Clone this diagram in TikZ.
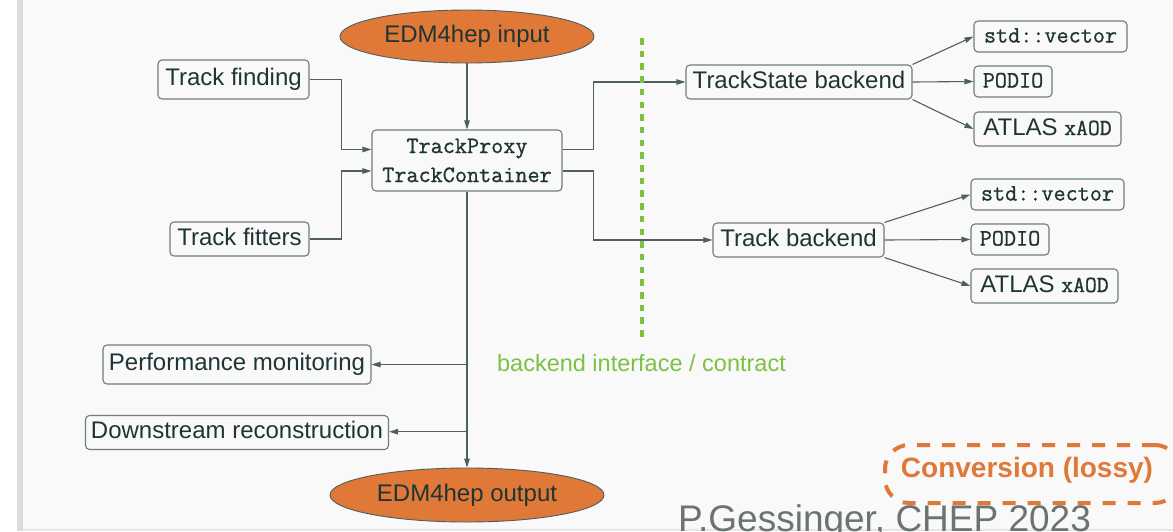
\documentclass[tikz,border=0pt]{standalone}
\usepackage{fontspec}
\setmainfont{Liberation Sans}
\setmonofont{Latin Modern Mono}[FakeBold=0.9]
\usetikzlibrary{shapes.geometric,arrows.meta,calc}
\definecolor{bg}{HTML}{F9F9F9}
\definecolor{strip}{HTML}{DCDCDC}
\definecolor{bstrip}{HTML}{E6E6E6}
\definecolor{txt}{HTML}{1F3535}
\definecolor{boxc}{HTML}{6E7D7D}
\definecolor{linec}{HTML}{4F5F5F}
\definecolor{orng}{HTML}{E07838}
\definecolor{grn}{HTML}{7DC142}
\definecolor{sig}{HTML}{6B7373}
\begin{document}
\begin{tikzpicture}[x=1pt,y=-1pt,
  box/.style={draw=boxc, line width=1.1pt, rounded corners=4pt, text=txt,
    font=\fontsize{24}{28}\selectfont, inner xsep=4pt, inner ysep=0pt,
    text height=17pt, text depth=5pt, minimum height=34pt},
  mono/.style={font=\ttfamily\fontsize{23.5}{29}\selectfont},
  ell/.style={ellipse, draw=linec, line width=0.9pt, fill=orng, text=txt,
    font=\fontsize{24}{28}\selectfont, inner sep=0pt},
  arr/.style={draw=linec, line width=1.1pt, -{Triangle[length=9pt,width=5.5pt]}},
  conn/.style={draw=linec, line width=1.1pt}]
\useasboundingbox (0,0) rectangle (1173,531);
\clip (0,0) rectangle (1173,531);
% background
\fill[white] (0,0) rectangle (1173,531);
\fill[bg] (23,0) rectangle (1173,529);
\fill[strip] (17,0) rectangle (23,531);
\fill[bstrip] (23,529) rectangle (1173,531);

% nodes
\node[ell, minimum width=254pt, minimum height=53pt] (in) at (467,36.5) {EDM4hep input};
\node[ell, minimum width=274pt, minimum height=54pt] (out) at (467,495) {EDM4hep output};
\node[box, minimum width=151pt, minimum height=39pt] (tf) at (233.5,79.5) {Track finding};
\node[box, minimum width=139pt] (tfit) at (239.5,239) {Track fitters};
\node[box, mono, align=center, minimum width=190pt, minimum height=61pt, text height=, text depth=] (proxy) at (467,160.5) {TrackProxy\\TrackContainer};
\node[box, minimum width=226pt] (tsb) at (799,82) {TrackState backend};
\node[box, minimum width=171pt] (tb) at (798.5,240) {Track backend};
\node[box, mono, minimum width=153pt, minimum height=31pt] (sv1) at (1050.5,36.5) {std::vector};
\node[box, mono, minimum width=78pt, minimum height=31pt] (p1) at (1013,81.5) {PODIO};
\node[box, minimum width=147pt] (a1) at (1047.5,129) {ATLAS {\ttfamily\fontsize{23}{28}\selectfont xAOD}};
\node[box, mono, minimum width=153pt, minimum height=31pt] (sv2) at (1047.5,194.5) {std::vector};
\node[box, mono, minimum width=78pt, minimum height=31pt] (p2) at (1010,239.5) {PODIO};
\node[box, minimum width=147pt] (a2) at (1044.5,286) {ATLAS {\ttfamily\fontsize{23}{28}\selectfont xAOD}};
\node[box, minimum width=268pt, minimum height=39pt] (pm) at (237,364.5) {Performance monitoring};
\node[box, minimum width=303pt] (ds) at (237,432.5) {Downstream reconstruction};

% connectors
\draw[arr] (in.south) -- (proxy.north);
\draw[arr] (tf.east) -- ++(32,0) |- ([yshift=11pt]proxy.west);
\draw[arr] (tfit.east) -- ++(32,0) |- ([yshift=-10.5pt]proxy.west);
\draw[arr] ([yshift=11pt]proxy.east) -- ++(31,0) |- (tsb.west);
\draw[arr] ([yshift=-10.5pt]proxy.east) -- ++(31,0) |- (tb.west);
\draw[arr] (proxy.south) -- (out.north);
\coordinate (j1) at (467,364.5);
\coordinate (j2) at (467,431.7);
\draw[arr] (j1) -- (pm.east);
\draw[arr] (j2) -- (ds.east |- j2);
\draw[arr] (tsb.north east) -- (sv1.west);
\draw[arr] (tsb.east) -- (p1.west);
\draw[arr] (tsb.south east) -- (a1.west);
\draw[arr] (tb.north east) -- (sv2.west);
\draw[arr] (tb.east) -- (p2.west);
\draw[arr] (tb.south east) -- (a2.west);

% backend interface line
\coordinate (g1) at (642,38);
\coordinate (g2) at (642,342);
\draw[grn, line width=4.5pt, dash pattern=on 6.5pt off 6.2pt] (g1) -- (g2);
\node[text=grn, font=\fontsize{23.5}{28}\selectfont, inner sep=0pt] (bif) at (641.5,363) {backend interface / contract};

% conversion
\node[draw=orng, line width=4pt, dash pattern=on 13pt off 12pt, rounded corners=24pt,
  minimum width=294pt, minimum height=58pt, anchor=north west, inner sep=0pt] (convbox) at (883,443) {};
\node[text=orng, font=\bfseries\fontsize{28}{30}\selectfont, inner sep=0pt] (conv) at (1027,470) {Conversion (lossy)};

% signature
\node[text=sig, font=\fontsize{37}{40}\selectfont, anchor=base west, inner sep=0pt] (sign) at (678,531.5) {P.Gessinger, CHEP 2023};
\end{tikzpicture}
\end{document}
